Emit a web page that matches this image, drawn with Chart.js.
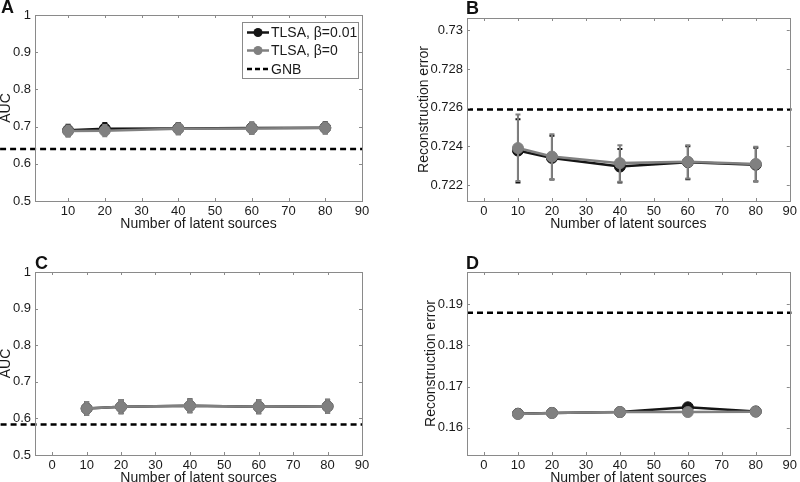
<!DOCTYPE html>
<html><head><meta charset="utf-8">
<script src="https://cdn.jsdelivr.net/npm/chart.js@4"></script>
<style>
html,body{margin:0;padding:0;background:#fff;width:800px;height:482px;overflow:hidden;}
.panel{position:absolute;width:400px;height:241px;}
.lab{position:absolute;font:bold 18px "Liberation Sans",Arial,sans-serif;color:#111;line-height:1;}
</style></head><body>
<div class="panel" style="left:0;top:0"><canvas id="cA" width="400" height="241"></canvas></div>
<div class="panel" style="left:400px;top:0"><canvas id="cB" width="400" height="241"></canvas></div>
<div class="panel" style="left:0;top:241px"><canvas id="cC" width="400" height="241"></canvas></div>
<div class="panel" style="left:400px;top:241px"><canvas id="cD" width="400" height="241"></canvas></div>
<div class="lab" style="left:1px;top:-2px">A</div>
<div class="lab" style="left:466px;top:-1px">B</div>
<div class="lab" style="left:35px;top:254px">C</div>
<div class="lab" style="left:466px;top:254px">D</div>
<script>
// ---------- data ----------
const latentSources = [10, 20, 40, 60, 80];
const seriesNames = ['TLSA, \u03b2=0.01', 'TLSA, \u03b2=0', 'GNB'];

// Panel A (AUC)
const aucA_beta001 = [0.690, 0.6945, 0.695, 0.696, 0.697];
const aucA_beta0   = [0.688, 0.689, 0.694, 0.695, 0.696];
const errA_beta001 = [0.015, 0.015, 0.015, 0.015, 0.015];
const errA_beta0   = [0.015, 0.015, 0.015, 0.015, 0.015];
const gnbA = 0.64;

// Panel B (reconstruction error)
const recB_beta001 = [0.72378, 0.72340, 0.72295, 0.72318, 0.72305];
const recB_beta0   = [0.72391, 0.72347, 0.72313, 0.72320, 0.72309];
const lowB_beta001 = [0.72213, 0.72228, 0.72213, 0.72230, 0.72218];
const highB_beta001= [0.72540, 0.72455, 0.72386, 0.72400, 0.72392];
const lowB_beta0   = [0.72220, 0.72230, 0.72217, 0.72234, 0.72221];
const highB_beta0  = [0.72565, 0.72463, 0.72406, 0.72406, 0.72398];
const gnbB = 0.72590;

// Panel C (AUC)
const aucC_beta001 = [0.627, 0.632, 0.6345, 0.632, 0.633];
const aucC_beta0   = [0.627, 0.632, 0.6345, 0.632, 0.633];
const errC_beta001 = [0.018, 0.018, 0.018, 0.018, 0.018];
const errC_beta0   = [0.018, 0.018, 0.018, 0.018, 0.018];
const gnbC = 0.583;

// Panel D (reconstruction error)
const recD_beta001 = [0.16340, 0.16360, 0.16380, 0.16496, 0.16395];
const recD_beta0   = [0.16333, 0.16357, 0.16380, 0.16380, 0.16389];
const errD_beta001 = [0.0002, 0.0002, 0.0002, 0.0002, 0.0002];
const errD_beta0   = [0.0002, 0.0002, 0.0002, 0.0002, 0.0002];
const gnbD = 0.18796;

// tick labels
const xTicksA = [10, 20, 30, 40, 50, 60, 70, 80, 90];
const xTicksBCD = [0, 10, 20, 30, 40, 50, 60, 70, 80, 90];
const yTicksAUC = [0.5, 0.6, 0.7, 0.8, 0.9, 1];
const yTicksB = [0.722, 0.724, 0.726, 0.728, 0.73];
const yTicksD = [0.16, 0.17, 0.18, 0.19];

// ---------- styling ----------
const FONT = '"Liberation Sans", Arial, Helvetica, sans-serif';
const TXT = '#1a1a1a';
const AXC = '#8a8a8a';
const BLACK = '#151515';
const GRAY = '#808080';

const boxPlugin = {
  id: 'matlabBox',
  afterDatasetsDraw(chart) {
    const {ctx, chartArea: a, scales: {x, y}} = chart;
    ctx.save();
    ctx.strokeStyle = AXC; ctx.lineWidth = 1;
    ctx.strokeRect(Math.round(a.left) + 0.5, Math.round(a.top) + 0.5, Math.round(a.right - a.left), Math.round(a.bottom - a.top));
    const L = 3;
    ctx.beginPath();
    x.ticks.forEach(t => {
      const px = Math.round(x.getPixelForValue(t.value)) + 0.5;
      ctx.moveTo(px, a.bottom); ctx.lineTo(px, a.bottom - L);
      ctx.moveTo(px, a.top); ctx.lineTo(px, a.top + L);
    });
    y.ticks.forEach(t => {
      const py = Math.round(y.getPixelForValue(t.value)) + 0.5;
      ctx.moveTo(a.left, py); ctx.lineTo(a.left + L, py);
      ctx.moveTo(a.right, py); ctx.lineTo(a.right - L, py);
    });
    ctx.stroke();
    ctx.restore();
  }
};

const errPlugin = {
  id: 'errBars',
  beforeDatasetDraw(chart, args) {
    const ds = chart.data.datasets[args.index];
    if (!ds.yLo) return;
    const {ctx, scales: {x, y}} = chart;
    ctx.save();
    ctx.strokeStyle = ds.borderColor; ctx.lineWidth = 2;
    ctx.beginPath();
    ds.data.forEach((p, i) => {
      const px = x.getPixelForValue(p.x);
      const lo = y.getPixelForValue(ds.yLo[i]);
      const hi = y.getPixelForValue(ds.yHi[i]);
      ctx.moveTo(px, lo); ctx.lineTo(px, hi);
      ctx.moveTo(px - 2.5, lo); ctx.lineTo(px + 2.5, lo);
      ctx.moveTo(px - 2.5, hi); ctx.lineTo(px + 2.5, hi);
    });
    ctx.stroke();
    ctx.restore();
  }
};

const legendPlugin = {
  id: 'boxLegend',
  afterDraw(chart, args, opts) {
    if (!opts.show) return;
    const {ctx} = chart;
    const bx = 242, by = 22, bw = 116, bh = 56;
    ctx.save();
    ctx.fillStyle = '#fff';
    ctx.fillRect(bx, by, bw, bh);
    ctx.strokeStyle = AXC; ctx.lineWidth = 1;
    ctx.strokeRect(bx + 0.5, by + 0.5, bw, bh);
    const rows = [32.5, 50.5, 69];
    const styles = [
      {c: BLACK, marker: true, dash: []},
      {c: GRAY, marker: true, dash: []},
      {c: '#000', marker: false, dash: [5, 3]}
    ];
    ctx.font = '14px ' + FONT;
    ctx.textBaseline = 'middle';
    seriesNames.forEach((name, i) => {
      const st = styles[i], yy = rows[i];
      ctx.strokeStyle = st.c; ctx.lineWidth = 2.5; ctx.setLineDash(st.dash);
      ctx.beginPath(); ctx.moveTo(247, yy); ctx.lineTo(269, yy); ctx.stroke();
      ctx.setLineDash([]);
      if (st.marker) {
        ctx.fillStyle = st.c;
        ctx.beginPath(); ctx.arc(258, yy, 4.5, 0, Math.PI * 2); ctx.fill();
      }
      ctx.fillStyle = TXT;
      ctx.fillText(name, 271, yy + 1);
    });
    ctx.restore();
  }
};

function pts(xs, ys) { return xs.map((v, i) => ({x: v, y: ys[i]})); }
function sub(a, b) { return a.map((v, i) => v - b[i]); }
function add(a, b) { return a.map((v, i) => v + b[i]); }

function makePanel(id, p) {
  const series = [
    {label: seriesNames[1], data: pts(latentSources, p.s0), borderColor: GRAY, backgroundColor: GRAY,
     yLo: p.lo0, yHi: p.hi0, order: 0},
    {label: seriesNames[0], data: pts(latentSources, p.s1), borderColor: BLACK, backgroundColor: BLACK,
     yLo: p.lo1, yHi: p.hi1, order: 1},
    {label: seriesNames[2], data: [{x: p.gx0, y: p.gnb}, {x: p.gx1, y: p.gnb}], borderColor: '#000',
     borderDash: [6, 4], borderWidth: 2.5, pointRadius: 0, order: 2, clip: false}
  ];
  series.forEach(s => {
    if (s.pointRadius === undefined) {
      s.borderWidth = 2.5; s.pointRadius = 5.5; s.pointBorderWidth = 1;
      s.pointBorderColor = s.borderColor; s.pointBackgroundColor = s.borderColor;
    }
    s.tension = 0; s.fill = false;
  });
  return new Chart(document.getElementById(id), {
    type: 'line',
    data: {datasets: series},
    plugins: [boxPlugin, errPlugin, legendPlugin],
    options: {
      responsive: false, animation: false, devicePixelRatio: 1,
      layout: {padding: {left: 0, right: 400 - p.right, top: p.top, bottom: 0}},
      plugins: {legend: {display: false}, tooltip: {enabled: false}, boxLegend: {show: !!p.legend}},
      scales: {
        x: {
          type: 'linear', min: p.xmin, max: p.xmax,
          afterFit(s) { s.height = 241 - p.bottom; },
          afterBuildTicks(s) { s.ticks = p.xticks.map(v => ({value: v})); },
          grid: {display: false, drawTicks: false}, border: {display: false},
          ticks: {font: {family: FONT, size: 13}, color: TXT, padding: 3, maxRotation: 0, autoSkip: false,
                  callback: v => String(v)},
          title: {display: true, text: 'Number of latent sources', color: TXT,
                  font: {family: FONT, size: 14, lineHeight: 1}, padding: {top: 0, bottom: p.xtitlePad}}
        },
        y: {
          type: 'linear', min: p.ymin, max: p.ymax,
          afterFit(s) { s.width = p.left; },
          afterBuildTicks(s) { s.ticks = p.yticks.map(v => ({value: v})); },
          grid: {display: false, drawTicks: false}, border: {display: false},
          ticks: {font: {family: FONT, size: 13}, color: TXT, padding: 4, autoSkip: false,
                  callback: v => String(parseFloat(v.toFixed(p.dec)))},
          title: {display: true, text: p.ytitle, color: TXT,
                  font: {family: FONT, size: 14, lineHeight: 1}, padding: {top: p.ytitlePad, bottom: 0}}
        }
      }
    }
  });
}

makePanel('cA', {
  s1: aucA_beta001, s0: aucA_beta0,
  lo1: sub(aucA_beta001, errA_beta001), hi1: add(aucA_beta001, errA_beta001),
  lo0: sub(aucA_beta0, errA_beta0), hi0: add(aucA_beta0, errA_beta0),
  gnb: gnbA, gx0: -8.5, gx1: 90,
  xmin: 1, xmax: 90, ymin: 0.5, ymax: 1, xticks: xTicksA, yticks: yTicksAUC, dec: 2,
  left: 35, right: 362, top: 15, bottom: 201, ytitle: 'AUC', ytitlePad: -1, xtitlePad: 10, legend: true
});
makePanel('cB', {
  s1: recB_beta001, s0: recB_beta0,
  lo1: lowB_beta001, hi1: highB_beta001, lo0: lowB_beta0, hi0: highB_beta0,
  gnb: gnbB, gx0: -5, gx1: 90.5,
  xmin: -5, xmax: 90, ymin: 0.72117, ymax: 0.73064, xticks: xTicksBCD, yticks: yTicksB, dec: 3,
  left: 67, right: 392, top: 18, bottom: 201, ytitle: 'Reconstruction error', ytitlePad: 17, xtitlePad: 10
});
makePanel('cC', {
  s1: aucC_beta001, s0: aucC_beta0,
  lo1: sub(aucC_beta001, errC_beta001), hi1: add(aucC_beta001, errC_beta001),
  lo0: sub(aucC_beta0, errC_beta0), hi0: add(aucC_beta0, errC_beta0),
  gnb: gnbC, gx0: -15, gx1: 90,
  xmin: -5, xmax: 90, ymin: 0.5, ymax: 1, xticks: xTicksBCD, yticks: yTicksAUC, dec: 2,
  left: 35, right: 362, top: 31, bottom: 214, ytitle: 'AUC', ytitlePad: -1, xtitlePad: -3
});
makePanel('cD', {
  s1: recD_beta001, s0: recD_beta0,
  lo1: sub(recD_beta001, errD_beta001), hi1: add(recD_beta001, errD_beta001),
  lo0: sub(recD_beta0, errD_beta0), hi0: add(recD_beta0, errD_beta0),
  gnb: gnbD, gx0: -5, gx1: 90.5,
  xmin: -5, xmax: 90, ymin: 0.15336, ymax: 0.19785, xticks: xTicksBCD, yticks: yTicksD, dec: 2,
  left: 67, right: 392, top: 31, bottom: 214, ytitle: 'Reconstruction error', ytitlePad: 24, xtitlePad: -3
});
</script>
</body></html>
